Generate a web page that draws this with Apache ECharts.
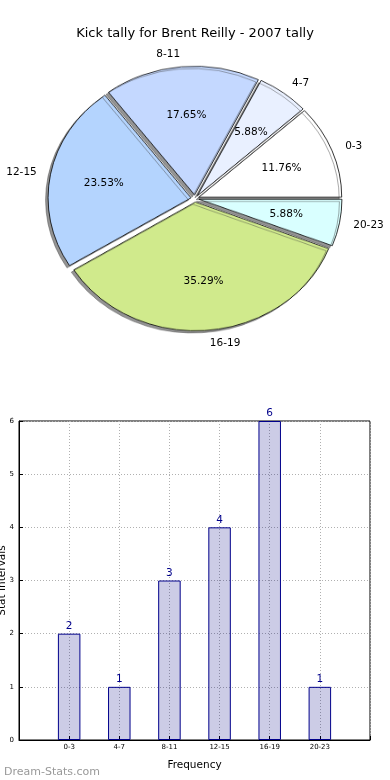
<!DOCTYPE html>
<html>
<head>
<meta charset="utf-8">
<script src="https://cdn.jsdelivr.net/npm/echarts@6/dist/echarts.min.js"></script>
<style>
html,body{margin:0;padding:0;background:#fff;}
#wrap{position:relative;width:390px;height:780px;overflow:hidden;}
#pie{position:absolute;left:0;top:0;width:390px;height:400px;transform:scaleY(0.9);transform-origin:195px 198.5px;}
#main{position:absolute;left:0;top:0;width:390px;height:780px;}
</style>
</head>
<body>
<div id="wrap"><div id="pie"></div><div id="main"></div></div>
<script>
const categories = ['0-3', '4-7', '8-11', '12-15', '16-19', '20-23'];
const tallies = [2, 1, 3, 4, 6, 1];
const sliceColors = ['#ffffff', '#e9f0ff', '#c4d8ff', '#b4d4fe', '#d0ea8c', '#d9ffff'];
const chartTitle = 'Kick tally for Brent Reilly - 2007 tally';
const xAxisName = 'Frequency';
const yAxisName = 'Stat Intervals';
const watermark = 'Dream-Stats.com';

const FONT = 'DejaVu Sans';
const PIE_CX = 195, PIE_CY = 198.5, PIE_R = 143, SQUASH = 0.9;
const total = tallies.reduce((a, b) => a + b, 0);

const pieData = categories.map((c, i) => ({
  name: c, value: tallies[i], selected: true,
  itemStyle: { color: sliceColors[i] },
  select: { itemStyle: { color: sliceColors[i] } }
}));

const pieChart = echarts.init(document.getElementById('pie'), null, { renderer: 'canvas' });
const sliceStyle = {
  borderColor: '#000', borderWidth: 0.8,
  shadowColor: 'rgba(60,60,60,0.55)', shadowBlur: 0.5, shadowOffsetX: -2.5, shadowOffsetY: 2.5
};
pieChart.setOption({
  animation: false,
  series: [{
    type: 'pie', center: [PIE_CX, PIE_CY], radius: PIE_R,
    startAngle: 0, clockwise: false,
    selectedMode: 'multiple', selectedOffset: 4, silent: true,
    label: { show: false }, labelLine: { show: false },
    itemStyle: sliceStyle,
    select: { itemStyle: sliceStyle },
    data: pieData
  }]
});

function squash(kind) {
  return function (params) {
    const r = params.labelRect;
    const lx = r.x + r.width / 2;
    const ly = r.y + r.height / 2;
    const ny = PIE_CY + (ly - PIE_CY) * SQUASH;
    let align = 'center', x = lx;
    if (kind === 'outer') {
      if (lx < PIE_CX) { align = 'right'; x = r.x + r.width; }
      else { align = 'left'; x = r.x; }
    }
    return { x: x, y: ny, align: align, verticalAlign: 'middle' };
  };
}

const labelData = categories.map((c, i) => ({ name: c, value: tallies[i] }));
const clear = { color: 'rgba(0,0,0,0)', borderWidth: 0 };

const main = echarts.init(document.getElementById('main'), null, { renderer: 'canvas' });
main.setOption({
  animation: false,
  textStyle: { fontFamily: FONT },
  title: [
    { text: chartTitle, left: 'center', top: 22,
      textStyle: { fontFamily: FONT, fontSize: 13, fontWeight: 'normal', color: '#000' } },
    { text: watermark, left: -1, top: 762,
      textStyle: { fontFamily: FONT, fontSize: 11, fontWeight: 'normal', color: '#999999' } }
  ],
  grid: { left: 19, top: 421, width: 351, height: 319, show: true, borderColor: '#000', borderWidth: 1,
    backgroundColor: 'transparent', containLabel: false, outerBoundsMode: 'none' },
  xAxis: {
    type: 'value', min: -1, max: 6, interval: 1,
    name: xAxisName, nameLocation: 'middle', nameGap: 20,
    nameTextStyle: { fontFamily: FONT, fontSize: 10.5, color: '#000' },
    axisLine: { show: true, onZero: false, lineStyle: { color: '#000' } },
    axisTick: { show: true, inside: true, length: 4, lineStyle: { color: '#000' } },
    axisLabel: { fontFamily: FONT, fontSize: 7, color: '#000', margin: 4,
      formatter: v => (categories[v] !== undefined ? categories[v] : '') },
    splitLine: { show: true, lineStyle: { type: [1, 2], color: '#b0b0b0', width: 1 } }
  },
  yAxis: {
    type: 'value', min: 0, max: 6, interval: 1,
    name: yAxisName, nameLocation: 'middle', nameGap: 11, nameMoveOverlap: false,
    nameTextStyle: { fontFamily: FONT, fontSize: 10.5, color: '#000' },
    axisLine: { show: true, onZero: false, lineStyle: { color: '#000' } },
    axisTick: { show: true, inside: true, length: 4, lineStyle: { color: '#000' } },
    axisLabel: { fontFamily: FONT, fontSize: 7, color: '#000', margin: 5 },
    splitLine: { show: true, lineStyle: { type: [1, 2], color: '#b0b0b0', width: 1 } }
  },
  series: [
    {
      type: 'pie', center: [PIE_CX, PIE_CY], radius: PIE_R,
      startAngle: 0, clockwise: false, silent: true, avoidLabelOverlap: false,
      itemStyle: clear,
      label: { show: true, position: 'outside', formatter: '{b}', fontFamily: FONT, fontSize: 10.5, color: '#000', distanceToLabelLine: 0 },
      labelLine: { show: false, length: 18, length2: 0 },
      labelLayout: squash('outer'),
      data: labelData
    },
    {
      type: 'pie', center: [PIE_CX, PIE_CY], radius: [36.6, PIE_R],
      startAngle: 0, clockwise: false, silent: true, avoidLabelOverlap: false,
      itemStyle: clear,
      label: { show: true, position: 'inside', fontFamily: FONT, fontSize: 10.5, color: '#000',
        formatter: p => (p.value / total * 100).toFixed(2) + '%' },
      labelLine: { show: false },
      labelLayout: squash('inner'),
      data: labelData
    },
    {
      type: 'bar', barWidth: 22.5,
      data: tallies.map((v, i) => [i, v]),
      itemStyle: { color: 'rgba(0,0,128,0.2)', borderColor: '#00008b', borderWidth: 1 },
      label: { show: true, position: 'top', distance: 2, fontFamily: FONT, fontSize: 10.5, color: '#00008b',
        formatter: p => p.value[1] },
      silent: true
    }
  ]
});
</script>
</body>
</html>
